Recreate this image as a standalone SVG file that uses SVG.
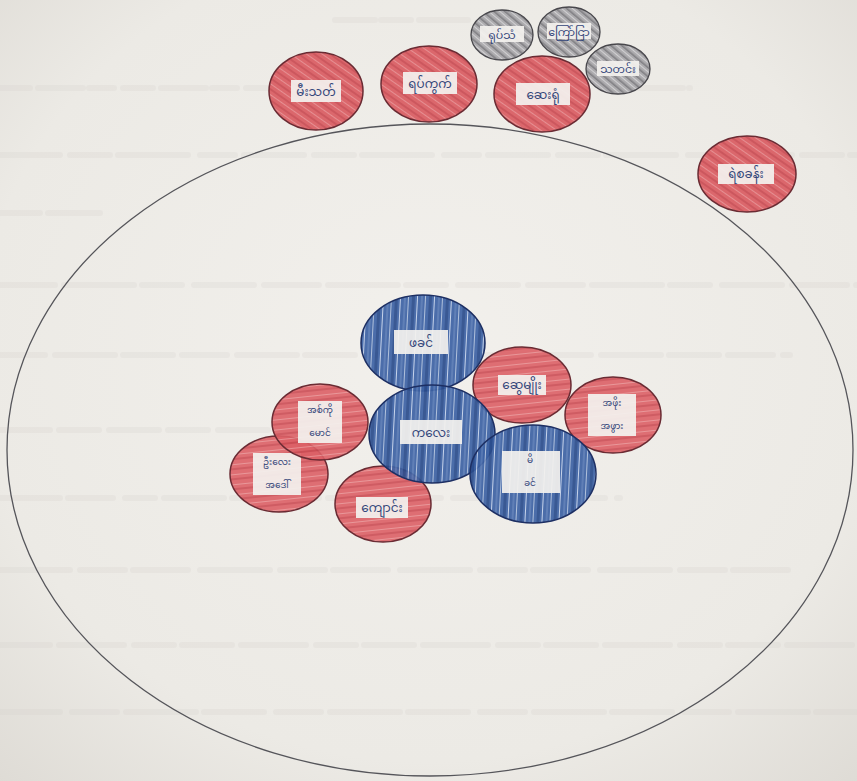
<svg xmlns="http://www.w3.org/2000/svg" width="857" height="781" viewBox="0 0 857 781">
<defs>
<radialGradient id="paper" cx="50%" cy="45%" r="75%">
<stop offset="0" stop-color="#f2f0ec"/><stop offset="0.7" stop-color="#ecEAE5"/><stop offset="1" stop-color="#dedbd5"/>
</radialGradient>
<pattern id="redDiag" patternUnits="userSpaceOnUse" width="9" height="9" patternTransform="rotate(-55)">
<rect width="9" height="9" fill="#d9595f"/><rect width="2" height="9" fill="#c8474f"/><rect x="5" width="1" height="9" fill="#e5868a"/>
</pattern>
<pattern id="redHor" patternUnits="userSpaceOnUse" width="10" height="10" patternTransform="rotate(-6)">
<rect width="10" height="10" fill="#dc6066"/><rect width="10" height="2" fill="#cb4c54"/><rect y="6" width="10" height="1" fill="#e88e91"/>
</pattern>
<pattern id="blueVert" patternUnits="userSpaceOnUse" width="17" height="20" patternTransform="rotate(3)">
<rect width="17" height="20" fill="#3d62a4"/><rect x="2" width="3" height="20" fill="#2a4c8c"/><rect x="7" width="1" height="20" fill="#c3d1ea"/><rect x="11" width="2" height="20" fill="#5476b2"/><rect x="15" width="0.7" height="20" fill="#dbe4f2"/>
</pattern>
<pattern id="grayDiag" patternUnits="userSpaceOnUse" width="7" height="7" patternTransform="rotate(-50)">
<rect width="7" height="7" fill="#a7a6a9"/><rect width="1.6" height="7" fill="#77767b"/><rect x="4" width="1" height="7" fill="#cfced1"/>
</pattern>
</defs>
<style>
.red{fill-opacity:0.9;stroke:#6a2b33;stroke-width:1.5}
.blue{fill-opacity:0.92;stroke:#1d2f63;stroke-width:1.5}
.gray{fill-opacity:0.92;stroke:#48474c;stroke-width:1.3}
.box{fill:#f3f1ee;fill-opacity:0.93}
.lbl{font-family:"Noto Sans Myanmar","Padauk","Myanmar Text","Noto Sans",sans-serif;font-size:12px;fill:#34467a;text-anchor:middle}
.sm{font-size:9px}
.ghost{stroke:#d2cfc9;stroke-width:6;stroke-linecap:round;opacity:0.22;fill:none}
.ring{fill:none;stroke:#55555a;stroke-width:1.3}
</style>
<rect width="857" height="781" fill="url(#paper)"/>
<g id="paper-show-through">
<path class="ghost" d="M335 20H468" stroke-dasharray="40 6 30 8 50 0"/>
<path class="ghost" d="M0 88H300M600 88H690" stroke-dasharray="30 8 45 6 25 9"/>
<path class="ghost" d="M0 155H857" stroke-dasharray="60 10 40 8 70 12 35 9"/>
<path class="ghost" d="M0 213H100" stroke-dasharray="40 8 50 0"/>
<path class="ghost" d="M0 285H857" stroke-dasharray="55 9 70 8 40 12 60 10"/>
<path class="ghost" d="M0 355H790" stroke-dasharray="45 10 60 8 50 9"/>
<path class="ghost" d="M0 430H350" stroke-dasharray="50 9 40 10"/>
<path class="ghost" d="M0 498H620" stroke-dasharray="60 8 45 12 30 9"/>
<path class="ghost" d="M0 570H790" stroke-dasharray="70 10 45 8 55 12"/>
<path class="ghost" d="M0 645H857" stroke-dasharray="50 9 65 10 40 8"/>
<path class="ghost" d="M0 712H857" stroke-dasharray="60 12 45 9 70 8"/>
</g>
<g id="outer-ring"><ellipse class="ring" cx="430" cy="450" rx="423" ry="326"/></g>
<g id="connectors"/>
<g id="n-top1"><ellipse class="red" fill="url(#redDiag)" cx="316" cy="91" rx="47" ry="39"/><rect class="box" x="291" y="80" width="50" height="22"/><text class="lbl" x="316" y="96">မီးသတ်</text></g>
<g id="n-top2"><ellipse class="red" fill="url(#redDiag)" cx="429" cy="84" rx="48" ry="38"/><rect class="box" x="403" y="72" width="54" height="22"/><text class="lbl" x="430" y="88">ရပ်ကွက်</text></g>
<g id="n-top3"><ellipse class="red" fill="url(#redDiag)" cx="542" cy="94" rx="48" ry="38"/><rect class="box" x="516" y="83" width="54" height="22"/><text class="lbl" x="543" y="99">ဆေးရုံ</text></g>
<g id="n-gray1"><ellipse class="gray" fill="url(#grayDiag)" cx="502" cy="35" rx="31" ry="25"/><rect class="box" x="480" y="26" width="44" height="16"/><text class="lbl" x="502" y="39" style="font-size:11px">ရုပ်သံ</text></g>
<g id="n-gray2"><ellipse class="gray" fill="url(#grayDiag)" cx="569" cy="32" rx="31" ry="25"/><rect class="box" x="547" y="23" width="44" height="16"/><text class="lbl" x="569" y="36" style="font-size:11px">ကြော်ငြာ</text></g>
<g id="n-gray3"><ellipse class="gray" fill="url(#grayDiag)" cx="618" cy="69" rx="32" ry="25"/><rect class="box" x="597" y="61" width="42" height="15"/><text class="lbl" x="618" y="73" style="font-size:11px">သတင်း</text></g>
<g id="n-right"><ellipse class="red" fill="url(#redDiag)" cx="747" cy="174" rx="49" ry="38"/><rect class="box" x="718" y="164" width="56" height="20"/><text class="lbl" x="746" y="178">ရဲစခန်း</text></g>
<g id="n-lowerleft"><ellipse class="red" fill="url(#redHor)" cx="279" cy="474" rx="49" ry="38"/><rect class="box" x="253" y="453" width="48" height="42"/><text class="lbl sm" x="277" y="465">ဦးလေး<tspan x="277" dy="23">အဒေါ်</tspan></text></g>
<g id="n-upperleft"><ellipse class="red" fill="url(#redHor)" cx="320" cy="422" rx="48" ry="38"/><rect class="box" x="298" y="401" width="44" height="42"/><text class="lbl sm" x="320" y="413">အစ်ကို<tspan x="320" dy="23">မောင်</tspan></text></g>
<g id="n-bottom"><ellipse class="red" fill="url(#redHor)" cx="383" cy="504" rx="48" ry="38"/><rect class="box" x="356" y="497" width="52" height="21"/><text class="lbl" x="382" y="512">ကျောင်း</text></g>
<g id="n-innerright1"><ellipse class="red" fill="url(#redHor)" cx="522" cy="385" rx="49" ry="38"/><rect class="box" x="498" y="375" width="48" height="20"/><text class="lbl" x="522" y="389">ဆွေမျိုး</text></g>
<g id="n-innerright2"><ellipse class="red" fill="url(#redHor)" cx="613" cy="415" rx="48" ry="38"/><rect class="box" x="588" y="394" width="48" height="42"/><text class="lbl sm" x="612" y="406">အဖိုး<tspan x="612" dy="23">အဖွား</tspan></text></g>
<g id="n-blue-top"><ellipse class="blue" fill="url(#blueVert)" cx="423" cy="343" rx="62" ry="48"/><rect class="box" x="394" y="330" width="54" height="24"/><text class="lbl" x="421" y="347">ဖခင်</text></g>
<g id="n-blue-center"><ellipse class="blue" fill="url(#blueVert)" cx="432" cy="434" rx="63" ry="49"/><rect class="box" x="400" y="420" width="62" height="24"/><text class="lbl" x="431" y="437">ကလေး</text></g>
<g id="n-blue-right"><ellipse class="blue" fill="url(#blueVert)" cx="533" cy="474" rx="63" ry="49"/><rect class="box" x="502" y="451" width="58" height="42"/><text class="lbl sm" x="530" y="463">မိ<tspan x="530" dy="23">ခင်</tspan></text></g>
</svg>
